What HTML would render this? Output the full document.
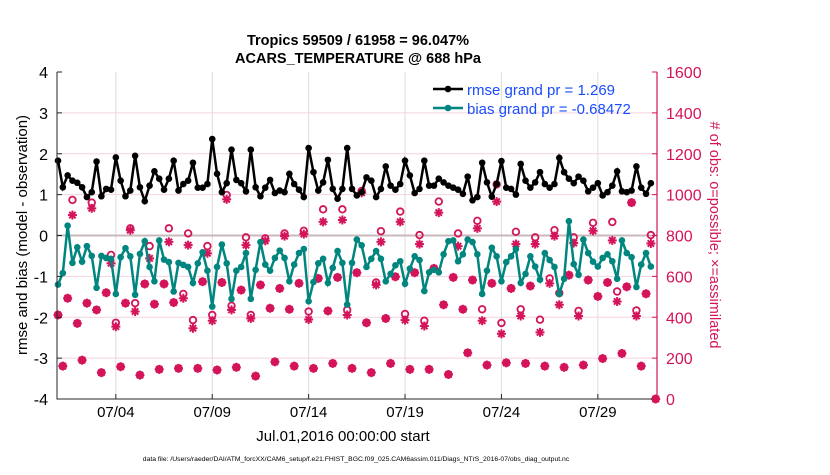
<!DOCTYPE html>
<html><head><meta charset="utf-8"><style>
body{margin:0;background:#fff;width:830px;height:470px;overflow:hidden}
svg text{font-family:"Liberation Sans",Arial,sans-serif}
</style></head><body>
<svg id="chart" width="830" height="470" xmlns="http://www.w3.org/2000/svg">
<g id="grid"></g>
<g id="marks"></g>
<g id="axes"></g>
<text x="358" y="45" text-anchor="middle" font-size="14.5" font-weight="bold">Tropics 59509 / 61958 = 96.047%</text>
<text x="358" y="63" text-anchor="middle" font-size="14.5" font-weight="bold">ACARS_TEMPERATURE @ 688 hPa</text>
<text transform="translate(27,235) rotate(-90)" text-anchor="middle" font-size="15">rmse and bias (model - observation)</text>
<text transform="translate(710,235) rotate(90)" text-anchor="middle" font-size="14.5" fill="#d4145a"># of obs: o=possible; ×=assimilated</text>
<text x="343" y="441" text-anchor="middle" font-size="15">Jul.01,2016 00:00:00 start</text>
<text x="356" y="461" text-anchor="middle" font-size="6.8">data file: /Users/raeder/DAI/ATM_forcXX/CAM6_setup/f.e21.FHIST_BGC.f09_025.CAM6assim.011/Diags_NTrS_2016-07/obs_diag_output.nc</text>
<g>
<line x1="433" y1="89" x2="463" y2="89" stroke="#000" stroke-width="2.5"/><circle cx="448" cy="89" r="3.3" fill="#000"/>
<text x="467" y="95" font-size="15" fill="#1a4cff">rmse grand pr = 1.269</text>
<line x1="433" y1="108" x2="463" y2="108" stroke="#00857f" stroke-width="2.5"/><circle cx="448" cy="108" r="3.3" fill="#00857f"/>
<text x="467" y="114" font-size="15" fill="#1a4cff">bias grand pr = -0.68472</text>
</g>
</svg>
<script>
const rmse=[1.83,1.18,1.47,1.34,1.29,1.18,0.94,1.06,1.81,0.96,1.14,1.12,1.91,1.34,0.96,1.10,1.95,1.18,0.84,1.22,1.57,1.39,1.12,1.39,1.83,1.10,1.26,1.34,1.78,1.17,1.17,1.26,
2.36,1.51,1.06,1.28,2.10,1.36,1.28,1.08,2.10,1.18,0.96,1.17,1.36,1.04,1.10,1.06,1.51,1.26,1.12,0.94,2.14,1.55,1.10,1.30,1.85,1.14,0.90,1.14,2.14,1.14,0.98,
1.06,1.42,1.34,0.94,1.14,1.69,1.22,1.12,1.26,1.83,1.47,1.04,1.14,1.83,1.22,1.22,1.39,1.30,1.22,1.17,1.12,1.02,1.44,0.86,0.94,1.78,1.30,0.95,1.26,1.82,1.17,
1.14,1.00,1.75,1.34,1.17,1.30,1.55,1.26,1.17,1.26,1.90,1.55,1.39,1.28,1.44,1.34,1.08,1.17,1.28,0.98,1.06,1.22,1.57,1.08,1.06,1.10,1.69,1.17,1.02,1.28];
const bias=[-1.20,-0.92,0.24,-0.67,-0.29,-0.64,-0.26,-0.50,-1.28,-0.50,-0.55,-0.57,-1.43,-0.53,-0.31,-0.51,-1.45,-0.45,-0.14,-0.77,-1.12,-0.12,-0.59,-0.65,-1.37,-0.67,-0.72,-0.77,-1.16,-0.68,-0.41,-0.86,
-1.74,-0.77,-0.22,-0.68,-1.55,-0.86,-0.77,-0.43,-1.55,-0.84,-0.16,-0.71,-0.86,-0.55,-0.37,-0.55,-1.12,-0.71,-0.43,-0.33,-1.61,-1.14,-0.68,-0.57,-1.16,-0.79,-0.38,-0.67,-1.69,-0.67,-0.10,
-0.24,-0.77,-0.57,-0.38,-0.57,-1.12,-0.94,-0.73,-0.63,-1.18,-0.81,-0.51,-0.60,-1.36,-0.90,-0.84,-0.90,-0.46,-0.14,-0.12,-0.63,-0.46,-0.10,-0.16,-0.46,-1.43,-0.86,-0.30,-0.51,-1.12,-0.65,
-0.51,-0.33,-1.16,-0.94,-0.51,-0.76,-1.08,-0.43,-0.60,-0.77,-1.43,-1.06,0.35,-0.70,-0.96,-0.10,-0.43,-0.64,-0.76,-0.55,-0.46,-0.63,-1.06,-0.12,-0.43,-0.53,-1.26,-0.71,-0.43,-0.76];
const assimilated=[411,161,493,900,370,190,469,933,436,129,520,664,354,158,469,826,428,117,563,688,464,145,563,769,472,150,493,753,346,150,574,713,
383,142,570,977,436,155,533,753,394,112,558,774,444,182,541,797,439,161,566,807,389,150,590,867,431,174,595,876,411,150,618,
1009,373,129,558,769,394,174,598,867,386,145,618,758,357,145,639,912,461,120,595,748,439,226,582,835,383,166,566,966,319,177,
541,758,406,174,553,758,326,161,566,797,461,155,606,763,406,166,582,823,502,198,570,776,477,223,549,961,406,161,515,761,0];
const possible=[411,161,493,974,370,190,469,961,436,129,520,705,373,158,469,835,469,117,563,748,464,145,563,835,472,150,514,810,386,150,574,748,
411,142,570,998,456,155,533,791,411,112,558,786,444,182,541,810,439,161,566,823,428,150,590,928,431,174,595,928,436,150,618,
1018,373,129,570,821,394,174,598,917,416,145,618,802,383,145,639,966,461,120,595,810,439,226,582,872,439,166,566,1050,372,177,
541,818,439,174,553,791,388,161,590,826,518,155,606,791,431,166,582,862,502,198,570,866,526,223,549,961,433,161,515,802,0];
const dateTicks=[3,8,13,18,23,28];
const dateLabels=["07/04","07/09","07/14","07/19","07/24","07/29"];
const leftTicks=[-4,-3,-2,-1,0,1,2,3,4];
const rightTicks=[0,200,400,600,800,1000,1200,1400,1600];

const NS="http://www.w3.org/2000/svg";
const L=57,R=657,T=72,B=399;
const xS=t=>58+t*19.28;
const yL=v=>B-(v+4)/8*(B-T);
const yR=v=>B-v/1600*(B-T);
function mk(tag,attrs,parent){const e=document.createElementNS(NS,tag);for(const k in attrs)e.setAttribute(k,attrs[k]);parent.appendChild(e);return e;}
const grid=document.getElementById('grid'),marks=document.getElementById('marks'),axes=document.getElementById('axes');
const RED="#d4145a",TEAL="#00857f";
dateTicks.forEach(t=>{const g=mk('line',{x1:xS(t),x2:xS(t),y1:T,y2:B,stroke:'#dcdcdc','stroke-width':1},grid);

});
leftTicks.forEach(v=>{if(v===-4||v===4)return;const g=mk('line',{x1:L,x2:R,y1:yL(v),y2:yL(v),stroke:v===0?'#c8b8bc':'#f3d3de','stroke-width':v===0?2:1},grid);

});
function star(x,y,par){const g=mk('g',{stroke:RED,'stroke-width':2},par);


for(let a=0;a<4;a++){const an=a*Math.PI/4;mk('line',{x1:x-4.5*Math.cos(an),y1:y-4.5*Math.sin(an),x2:x+4.5*Math.cos(an),y2:y+4.5*Math.sin(an)},g);}}
possible.forEach((v,i)=>{const c=mk('circle',{cx:xS(i*0.25),cy:yR(v),r:3.3,fill:'none',stroke:RED,'stroke-width':1.8},marks);

});
assimilated.forEach((v,i)=>star(xS(i*0.25),yR(v),marks));
function series(arr,col,name){const p=mk('polyline',{points:arr.map((v,i)=>xS(i*0.25)+','+yL(v)).join(' '),fill:'none',stroke:col,'stroke-width':2.5},marks);


arr.forEach((v,i)=>{const c=mk('circle',{cx:xS(i*0.25),cy:yL(v),r:3.3,fill:col},marks);

});}
series(bias,TEAL,'bias');
series(rmse,'#000','rmse');
const fr=mk('path',{d:`M${L},${T}V${B}H${R}`,fill:'none',stroke:'#262626','stroke-width':1},axes);


const ra=mk('line',{x1:R,x2:R,y1:T,y2:B,stroke:RED,'stroke-width':1.2},axes);


leftTicks.forEach(v=>{mk('line',{x1:L,x2:L+5,y1:yL(v),y2:yL(v),stroke:'#262626'},axes);
const t=mk('text',{x:L-9,y:yL(v)+6,'text-anchor':'end','font-size':16},axes);t.textContent=v;

});
rightTicks.forEach(v=>{mk('line',{x1:R-5,x2:R,y1:yR(v),y2:yR(v),stroke:RED},axes);
const t=mk('text',{x:R+9,y:yR(v)+6,'font-size':16,fill:RED},axes);t.textContent=v;

});
dateTicks.forEach((d,i)=>{mk('line',{x1:xS(d),x2:xS(d),y1:B,y2:B-5,stroke:'#262626'},axes);
const t=mk('text',{x:xS(d),y:B+18,'text-anchor':'middle','font-size':15},axes);t.textContent=dateLabels[i];

});
</script>
</body></html>
